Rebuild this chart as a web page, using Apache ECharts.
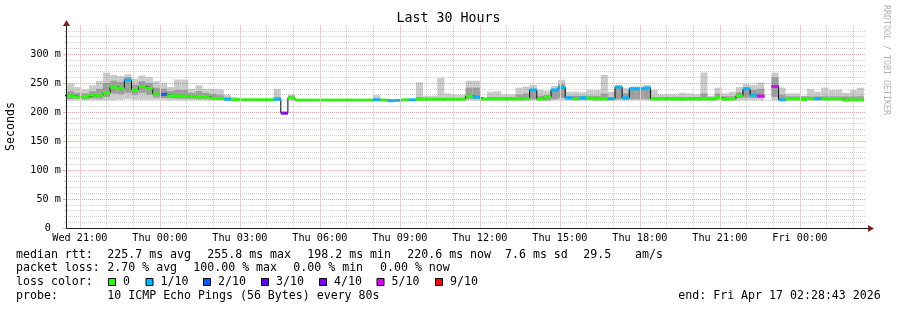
<!DOCTYPE html>
<html><head><meta charset="utf-8">
<script src="https://cdn.jsdelivr.net/npm/echarts@6/dist/echarts.min.js"></script>
<style>html,body{margin:0;padding:0;background:#fff}#c{width:897px;height:310px}</style>
</head><body><div id="c"></div>
<script>
// ---- time frame (hours since Wed 00:00) ----
const startHour = 20 + 28/60 + 43/3600;   // Wed 20:28:43
const endHour = startHour + 30;           // Fri 02:28:43
const stepHours = 16/60;                  // consolidated step (16 min)
const firstStepEnd = 20 + 32/60;          // first step ends Wed 20:32

// ---- series values (ms) ----
const median = [228,228,226,226,229,229,233,243,241,255,
  238,244,241,231,230.5,228,228,227.5,227,226,
  226,223.5,223.5,222,221,221,221,221,221,221,
  222,198,224,220.5,220.5,220.5,220.5,220.5,220.5,220.5,
  220.5,220.5,220.5,220.5,221,220.5,219.5,220,221,221,
  222,222,222,222,222,222,222,227.5,225.5,222.5,
  222.5,222.5,222.5,222.5,222.5,223,238,222.5,226,238,
  242.5,224.5,223,224.5,224,222.5,222.5,223,243,224.5,
  240,240,241.5,222.5,222.5,222.5,222.5,222,222.5,222.5,
  222.5,222.5,224.5,222,222.5,228,240,229,227.5,null,
  244,221,222.5,222.5,221.5,223,223,222.5,222.5,222.5,
  220.5,221,220.6];
const lossTenths = [0,0,0,0,0,0,0,0,0,1,
  0,0,0,0,2,0,0,0,0,0,
  0,0,0,1,0,0,0,0,0,0,
  1,4,0,0,0,0,0,0,0,0,
  0,0,0,0,1,0,1,1,0,1,
  0,0,0,0,0,0,0,0,1,0,
  0,0,0,0,0,0,1,0,0,1,
  1,1,0,1,0,0,0,1,1,1,
  1,1,1,0,0,0,0,0,0,0,
  0,0,0,0,0,0,1,1,5,null,
  5,1,0,0,0,0,1,0,0,0,
  0,0,0];
const smokeHi = [249,249,243,239,246,253,268,264,262,265,
  257,263,260,253,250,243,256,256,240,246,
  240,240,239,230,226,224,223,223,223,223,
  240,null,230,221,221,221,221,221,221,221,
  221,221,221,221,229,221,221,222,222,222,
  251,228,228,259,232,230,230,254,254,224,
  235,236,230.5,230.5,242,244,246.5,238.5,237,245,
  255.5,235,235,234,238.5,238.5,264,235,246.5,241,
  244,244,246.5,238,230.5,231,230.5,233,232,230.5,
  268,228,242,232,235,243,248,247,251,null,
  268,242,232,232,228,240,235,242,238,238.5,
  233,238,242];
const smokeLo = [220,220,220,220,220,220,220,220,221,222,
  221,221,221,221,221,220,220,220,220,220,
  220,220,220,219,219,219,219,219,219,219,
  219,null,220,219.5,219.5,219.5,219.5,219.5,219.5,219.5,
  219.5,219.5,219.5,219.5,219,219.5,218.5,219,219.5,219.5,
  219.5,219.5,219.5,219.5,219.5,219.5,219.5,220,220,219.5,
  219.5,219.5,219.5,219.5,219.5,219.5,220,219.5,219.5,220,
  220,220,219.5,220,219.5,219.5,219.5,219.5,220,220,
  220,220,220,219.5,219.5,219.5,219.5,219.5,219.5,219.5,
  219.5,219.5,219.5,219.5,219.5,220,220,220,220,null,
  220,219,219.5,219.5,219,219.5,219.5,219.5,219.5,219.5,
  218.5,219,219];
const innerHi = [236,236,233,232,236,240,250,254,252,260,
  247,253,250,242,240,236,238,238,233,236,
  233,231,229,225,222,222,222,222,222,222,
  226,null,228,null,null,null,null,null,null,null,
  null,null,null,null,223,null,null,null,null,null,
  226,224,224,224,224,224,224,242,242,223,
  226,226,226,226,230,232,240,228,229,240,
  248,228,228,228,228,228,232,226,244,232,
  242,242,242,226,226,226,226,226,226,226,
  232,225,232,227,227,234,242,238,240,null,
  260,230,227,227,227,227,227,227,227,227,
  227,227,227];
const innerLo = [222,222,223,222,223,223,226,232,231,233,
  230,233,230,225,224,224,223,223,223,222,
  222,221,221,221,220,220,220,220,220,220,
  221,null,222,null,null,null,null,null,null,null,
  null,null,null,null,220,null,null,null,null,null,
  221,221,221,221,221,221,221,223,222,221,
  221,221,221,221,221,221,222,221,220,222,
  224,221,221,221,221,221,221,221,222,221,
  222,222,222,221,221,221,221,221,221,221,
  221,221,222,221,221,224,225,224,224,null,
  226,220,221,221,221,221,221,221,221,221,
  221,221,221];

// ---- axes / legend texts ----
const yLabelValues = [0,50,100,150,200,250,300];
const xTickHours = [21,24,27,30,33,36,39,42,45,48];
const xTickLabels = ['Wed 21:00','Thu 00:00','Thu 03:00','Thu 06:00','Thu 09:00','Thu 12:00','Thu 15:00','Thu 18:00','Thu 21:00','Fri 00:00'];
const lossLevels = [0,1,2,3,4,5,9];
const lossLabels = ['0','1/10','2/10','3/10','4/10','5/10','9/10'];
const lossColors = ['#26ff00','#00b8ff','#0059ff','#5e00ff','#7e00ff','#dd00ff','#ff0000'];
const rttStats = ['225.7 ms avg','255.8 ms max','198.2 ms min','220.6 ms now','7.6 ms sd','29.5','am/s'];
const lossStats = ['2.70 % avg','100.00 % max','0.00 % min','0.00 % now'];
const probeText = '10 ICMP Echo Pings (56 Bytes) every 80s';
const endText = 'end: Fri Apr 17 02:28:43 2026';
const titleText = 'Last 30 Hours';
const yTitle = 'Seconds';

// ---- styling ----
const MONO = 'DejaVu Sans Mono';
const GRID = 'rgba(143,143,143,0.40)';
const MGRID = 'rgba(230,70,70,0.5)';
const MGRID_V = '#f5c6c6';
const SHADE_A = '#cbcbcb';
const SHADE_B = '#9e9e9e';
const ARROW = '#801f1f';
const AXIS = '#1f1f1f';

function lossColor(l){ let c = lossColors[0]; for (let i=0;i<lossLevels.length;i++) if (l>=lossLevels[i]) c = lossColors[i]; return c; }
const stepStart = j => firstStepEnd - stepHours + j*stepHours;
const stepEnd = j => firstStepEnd + j*stepHours;

const smokeData = median.map((m,j)=>[stepStart(j), stepEnd(j)]);
function renderSmoke(params, api){
  const j = params.dataIndex;
  const x0 = Math.max(api.value(0), startHour), x1 = Math.min(api.value(1), endHour);
  const kids = [];
  const rect = (a,b,fill)=>{ const p0 = api.coord([x0,b]), p1 = api.coord([x1,a]);
    return {type:'rect', shape:{x:p0[0], y:p0[1], width:p1[0]-p0[0], height:p1[1]-p0[1]}, style:{fill}}; };
  if (smokeLo[j]!=null && smokeHi[j]!=null) kids.push(rect(smokeLo[j], smokeHi[j], SHADE_A));
  if (innerLo[j]!=null && innerHi[j]!=null) kids.push(rect(innerLo[j], innerHi[j], SHADE_B));
  return {type:'group', children:kids};
}
function renderMedian(params, api){
  const j = params.dataIndex;
  if (median[j]==null) return null;
  const x0 = Math.max(api.value(0), startHour), x1 = Math.min(api.value(1), endHour);
  const p0 = api.coord([x0, median[j]]), p1 = api.coord([x1, median[j]]);
  return {type:'rect', shape:{x:p0[0], y:p0[1]-1.5, width:p1[0]-p0[0], height:3}, style:{fill:lossColor(lossTenths[j])}};
}
const lineData = [];
median.forEach((m,j)=>{ if (m==null){ lineData.push([ (stepStart(j)+stepEnd(j))/2, '-']); } else { lineData.push([stepStart(j), m]); lineData.push([stepEnd(j), m]); } });

const chart = echarts.init(document.getElementById('c'), null, {renderer:'canvas'});

// legend graphics
const gfx = [];
const txt = (x,y,s,extra)=>gfx.push(Object.assign({type:'text', x, y, style:{text:s, font:`11.6px "${MONO}"`, fill:'#000', textVerticalAlign:'middle'}}, extra||{}));
txt(16,254.5,'median rtt:');
[107.3,207.3,307.3,407.3,505,583.3,635].forEach((x,i)=>txt(x,254.5,rttStats[i]));
txt(16,268,'packet loss:');
[107.3,193.3,293.3,380].forEach((x,i)=>txt(x,268,lossStats[i]));
txt(16,282,'loss color:');
[108.5,146,203.5,261.5,319.5,377,435.5].forEach((x,i)=>{
  gfx.push({type:'rect', shape:{x:x, y:278.5, width:7, height:7}, style:{fill:lossColors[i], stroke:'#000', lineWidth:1}});
  txt(x+14.5,282,lossLabels[i]);
});
txt(16,296,'probe:');
txt(107.3,296,probeText);
txt(678.3,296,endText);
// title, axis title
gfx.push({type:'text', x:448.5, y:19, style:{text:titleText, font:`13.3px "${MONO}"`, fill:'#000', textAlign:'center', textVerticalAlign:'middle'}});
gfx.push({type:'text', x:11, y:126.5, rotation:Math.PI/2, style:{text:yTitle, font:`11.6px "${MONO}"`, fill:'#000', textAlign:'center', textVerticalAlign:'middle'}});
// watermark
gfx.push({type:'text', x:886, y:5, rotation:-Math.PI/2, style:{text:'RRDTOOL / TOBI OETIKER', font:`8.3px "${MONO}"`, fill:'#b4b4b4', textAlign:'left', textVerticalAlign:'middle'}});
// axis lines and arrows
gfx.push({type:'line', shape:{x1:66.5, y1:228.5, x2:869, y2:228.5}, style:{stroke:AXIS, lineWidth:1}, z:10});
gfx.push({type:'line', shape:{x1:66.5, y1:228.5, x2:66.5, y2:24}, style:{stroke:AXIS, lineWidth:1}, z:10});
gfx.push({type:'polygon', shape:{points:[[868,225],[874,228.5],[868,232]]}, style:{fill:ARROW}, z:10});
gfx.push({type:'polygon', shape:{points:[[63,26],[66.5,20],[70,26]]}, style:{fill:ARROW}, z:10});

// hour grids: one for the 3-hour major lines (with labels), two offset ones for the hourly minor lines
const pxOf = h => 66 + (h - startHour) * 800 / 30;
const hourGridStarts = [21, 22, 23];
const grids = [{left:66, right:31, top:25, bottom:82, outerBoundsMode:'none', containLabel:false}];
const xAxes = [{gridIndex:0, type:'value', min:startHour, max:endHour, show:false}];
const yAxes = [];
hourGridStarts.forEach((h0, k)=>{
  const gi = k + 1;
  grids.push({left:pxOf(h0), right:897 - pxOf(h0 + 30), top:25, bottom:82, outerBoundsMode:'none', containLabel:false});
  const major = k === 0;
  xAxes.push({gridIndex:gi, type:'value', min:h0, max:h0 + 30, interval:3, z:major ? 6 : 5,
    axisLine:{show:false}, axisTick:{show:false},
    axisLabel: major ? {margin:5, color:'#000', fontFamily:MONO, fontSize:10.2, hideOverlap:false,
      formatter:v=>{ const i = xTickHours.indexOf(Math.round(v)); return (i>=0 && Math.abs(v-Math.round(v))<1e-6) ? xTickLabels[i] : ''; }} : {show:false},
    splitLine:{show:true, showMinLine:true, showMaxLine:false, lineStyle:major ? {color:MGRID_V, width:1, type:'solid'} : {color:GRID, width:1, type:[1,1]}}});
  yAxes.push({gridIndex:gi, type:'value', min:0, max:1, show:false});
});

chart.setOption({
  animation:false,
  backgroundColor:'#ffffff',
  grid:grids,
  xAxis:xAxes,
  yAxis:[
    {gridIndex:0, type:'value', min:0, max:350, interval:50, z:5,
      axisLine:{show:false}, axisTick:{show:true, length:3, lineStyle:{color:MGRID}},
      minorTick:{show:true, splitNumber:5, length:2, lineStyle:{color:GRID}},
      minorSplitLine:{show:true, lineStyle:{color:GRID, width:1, type:[1,1]}},
      axisLabel:{margin:5, color:'#000', fontFamily:MONO, fontSize:10.2,
        rich:{z:{fontFamily:MONO, fontSize:10.2, color:'#000', padding:[0,10,0,0]}},
        formatter:v=>{ const r = Math.round(v); if (yLabelValues.indexOf(r)<0) return ''; return r===0 ? '{z|0}' : r + ' m'; }},
      splitLine:{show:true, showMinLine:true, showMaxLine:false, lineStyle:{color:MGRID, width:1, type:[1,1]}}}
  ].concat(yAxes),
  series:[
    {type:'custom', xAxisIndex:0, yAxisIndex:0, data:smokeData, renderItem:renderSmoke, z:1, clip:true, silent:true},
    {type:'line', xAxisIndex:0, yAxisIndex:0, data:lineData, symbol:'none', lineStyle:{color:'#000', width:1}, z:2, clip:true, connectNulls:false, silent:true},
    {type:'custom', xAxisIndex:0, yAxisIndex:0, data:smokeData, renderItem:renderMedian, z:3, clip:true, silent:true}
  ],
  graphic:gfx
});
</script></body></html>
